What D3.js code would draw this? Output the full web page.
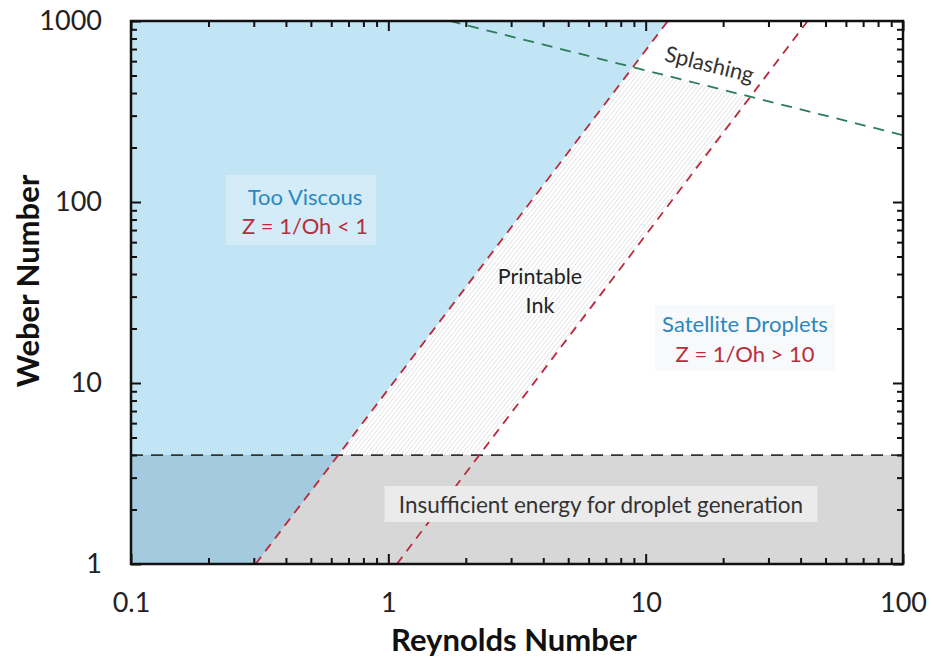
<!DOCTYPE html>
<html>
<head>
<meta charset="utf-8">
<script src="https://d3js.org/d3.v7.min.js"></script>
<style>
  body { margin: 0; background: #fff; }
  text { font-family: Lato, "Open Sans", sans-serif; }
  .frame { fill: none; stroke: #111; stroke-width: 2.5px; }
  .axis path { display: none; }
  .axis line { stroke: #111; stroke-width: 2px; }
  .axis text { font-size: 27px; fill: #222; font-family: Lato, sans-serif; }
</style>
</head>
<body>
<svg id="chart" width="932" height="658"></svg>
<script>
// axis ranges and tick labels
const reDomain = [0.1, 100];
const weDomain = [1, 1000];
const reTicks = [0.1, 1, 10, 100];
const weTicks = [1, 10, 100, 1000];

// Z = 1/Oh boundary lines, given as [Re, We] end points
const zOne = [[0.305, 1], [12.2, 1000]];
const zTen = [[1.08, 1], [42.6, 1000]];
// splashing threshold, [Re, We]
const splashLine = [[1.73, 1000], [100, 234]];
// minimum We for droplet generation
const weMin = 4;

const svg = d3.select("#chart");
const margin = { top: 21, right: 29, bottom: 94, left: 131 };
const width = 932 - margin.left - margin.right;
const height = 658 - margin.top - margin.bottom;

const x = d3.scaleLog().domain(reDomain).range([0, width]);
const y = d3.scaleLog().domain(weDomain).range([height, 0]);

const defs = svg.append("defs");
const pat = defs.append("pattern")
  .attr("id", "hatch")
  .attr("patternUnits", "userSpaceOnUse")
  .attr("width", 3.4).attr("height", 10)
  .attr("patternTransform", "rotate(38)");
pat.append("line").attr("x1", 0).attr("y1", 0).attr("x2", 0).attr("y2", 10)
  .attr("stroke", "#bdbdbd").attr("stroke-width", 0.8);

// Re on a Z-line for a given We (straight in log-log space)
function reAt(line, we) {
  const t = (Math.log10(we) - Math.log10(line[0][1])) / (Math.log10(line[1][1]) - Math.log10(line[0][1]));
  return Math.pow(10, Math.log10(line[0][0]) + t * (Math.log10(line[1][0]) - Math.log10(line[0][0])));
}
function weAt(line, re) {
  const t = (Math.log10(re) - Math.log10(line[0][0])) / (Math.log10(line[1][0]) - Math.log10(line[0][0]));
  return Math.pow(10, Math.log10(line[0][1]) + t * (Math.log10(line[1][1]) - Math.log10(line[0][1])));
}

const g = svg.append("g").attr("transform", `translate(${margin.left},${margin.top})`);
const poly = pts => "M" + pts.map(p => [x(p[0]), y(p[1])].join(",")).join("L") + "Z";

// clip: area below the splashing line
defs.append("clipPath").attr("id", "belowSplash")
  .append("path")
  .attr("d", poly([[0.1, weAt(splashLine, 0.1)], [100, weAt(splashLine, 100)], [100, 1], [0.1, 1]]));

// too viscous region
g.append("path")
  .attr("d", poly([[0.1, 1], [reAt(zOne, 1), 1], [reAt(zOne, 1000), 1000], [0.1, 1000]]))
  .attr("fill", "#c2e5f5");

// insufficient energy band
g.append("rect")
  .attr("x", 0).attr("y", y(weMin))
  .attr("width", width).attr("height", y(1) - y(weMin))
  .attr("fill", "#d7d7d7");

// overlap of both
g.append("path")
  .attr("d", poly([[0.1, 1], [reAt(zOne, 1), 1], [reAt(zOne, weMin), weMin], [0.1, weMin]]))
  .attr("fill", "#a3cade");

// printable ink band
g.append("path")
  .attr("d", poly([[reAt(zOne, weMin), weMin], [reAt(zOne, 1000), 1000], [reAt(zTen, 1000), 1000], [reAt(zTen, weMin), weMin]]))
  .attr("fill", "url(#hatch)")
  .attr("clip-path", "url(#belowSplash)");

// label boxes (page coordinates)
function box(cx, cy, w, h, fill) {
  svg.append("rect").attr("x", cx - w / 2).attr("y", cy - h / 2)
    .attr("width", w).attr("height", h).attr("fill", fill);
}
box(301, 210, 150, 70, "#d3ecf7");
box(745, 338, 180, 66, "#f8f9fa");
box(601, 504, 433, 36, "#ebebeb");

// boundary lines
const line = d3.line().x(d => x(d[0])).y(d => y(d[1]));
g.append("path").datum([[0.1, weMin], [100, weMin]]).attr("d", line)
  .attr("stroke", "#333").attr("stroke-width", 1.8).attr("stroke-dasharray", "12,8").attr("fill", "none");
[zOne, zTen].forEach(l => {
  g.append("path").datum(l).attr("d", line)
    .attr("stroke", "#b92a3c").attr("stroke-width", 1.8).attr("stroke-dasharray", "9,7").attr("fill", "none");
});
g.append("path").datum(splashLine).attr("d", line)
  .attr("stroke", "#2e7d5a").attr("stroke-width", 1.8).attr("stroke-dasharray", "11,8").attr("fill", "none");

// axes with inward ticks
const minorRe = x.ticks().filter(v => !reTicks.includes(+v.toPrecision(3)));
const minorWe = y.ticks().filter(v => !weTicks.includes(+v.toPrecision(3)));

g.append("g").attr("class", "axis").attr("transform", `translate(0,${height})`)
  .call(d3.axisBottom(x).tickValues(minorRe).tickSize(-6).tickFormat(""));
g.append("g").attr("class", "axis").attr("transform", `translate(0,${height})`)
  .call(d3.axisBottom(x).tickValues(reTicks).tickSize(-10).tickPadding(29).tickFormat(d => d));
g.append("g").attr("class", "axis")
  .call(d3.axisTop(x).tickValues(minorRe).tickSize(-6).tickFormat(""));
g.append("g").attr("class", "axis")
  .call(d3.axisTop(x).tickValues(reTicks).tickSize(-10).tickFormat(""));

g.append("g").attr("class", "axis")
  .call(d3.axisLeft(y).tickValues(minorWe).tickSize(-6).tickFormat(""));
g.append("g").attr("class", "axis")
  .call(d3.axisLeft(y).tickValues(weTicks).tickSize(-10).tickPadding(29).tickFormat(d => d));
g.append("g").attr("class", "axis").attr("transform", `translate(${width},0)`)
  .call(d3.axisRight(y).tickValues(minorWe).tickSize(-6).tickFormat(""));
g.append("g").attr("class", "axis").attr("transform", `translate(${width},0)`)
  .call(d3.axisRight(y).tickValues(weTicks).tickSize(-10).tickFormat(""));

g.append("rect").attr("class", "frame").attr("width", width).attr("height", height);

// region labels
function label(tx, ty, str, color, size) {
  return svg.append("text").attr("x", tx).attr("y", ty)
    .attr("text-anchor", "middle").attr("fill", color)
    .style("font-size", size + "px").text(str);
}
label(305, 205, "Too Viscous", "#2b88c0", 22);
label(305, 234, "Z = 1/Oh < 1", "#b5303f", 22);
label(745, 332, "Satellite Droplets", "#2b88c0", 22);
label(745, 362, "Z = 1/Oh > 10", "#b5303f", 22);
label(540, 284, "Printable", "#222", 21.5);
label(540, 313, "Ink", "#222", 21.5);
label(601, 513, "Insufficient energy for droplet generation", "#333", 22.5);
label(709, 72, "Splashing", "#333", 22).attr("transform", "rotate(14,709,66)");

// axis titles
svg.append("text").attr("x", 514).attr("y", 651).attr("text-anchor", "middle")
  .style("font-size", "31px").style("font-weight", "bold").attr("fill", "#111").text("Reynolds Number");
svg.append("text").attr("transform", "translate(39,281) rotate(-90)").attr("text-anchor", "middle")
  .style("font-size", "31px").style("font-weight", "bold").attr("fill", "#111").text("Weber Number");
</script>
</body>
</html>
